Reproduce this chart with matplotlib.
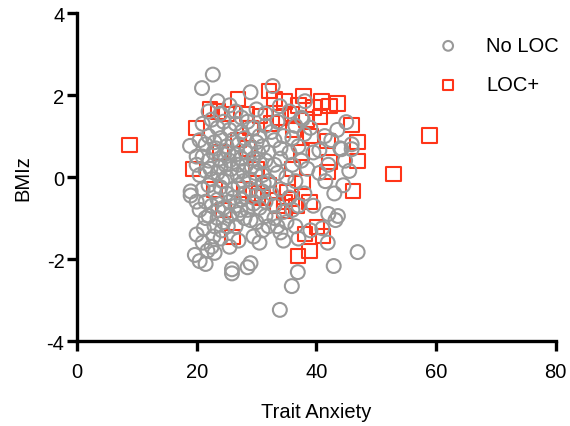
import matplotlib
matplotlib.use('Agg')
import matplotlib.pyplot as plt

#   font and colours
plt.rcParams['font.family'] = ['Liberation Sans Narrow', 'Liberation Sans', 'DejaVu Sans']
plt.rcParams['axes.unicode_minus'] = False
grey = '#999999'
red = '#ff3519'

#   No LOC group (trait anxiety, BMIz)
noloc_x = [22.7, 20.9, 32.7, 29.0, 23.5, 25.5, 22.0, 24.0, 26.5, 30.0, 31.5, 27.5, 35.5, 33.5,
           36.5, 37.5, 38.0, 36.0, 39.5, 40.5, 42.5, 44.0, 45.9, 45.0, 43.5, 44.8, 42.0, 40.5,
           38.5, 41.5, 43.0, 44.5, 45.5, 38.0, 39.5, 42.0, 43.6, 43.2, 41.0, 39.0, 41.9, 46.9,
           37.0, 36.5, 35.0, 34.0, 33.0, 32.0, 34.5, 36.9, 35.9, 33.9, 42.9, 29.0, 28.5, 25.9,
           25.9, 19.7, 20.5, 21.5, 20.0, 21.0, 22.5, 24.0, 25.5, 27.0, 29.5, 30.5, 31.0, 28.0,
           26.5, 23.0, 21.5, 20.5, 19.0, 19.0, 20.0, 18.9, 20.0,
           21.0, 22.5, 23.5, 24.5, 25.5, 26.5, 27.5, 28.5, 29.5, 30.5, 31.5, 32.5, 33.0, 34.5,
           20.5, 21.5, 22.0, 23.0, 24.0, 25.0, 26.0, 27.0, 28.0, 29.0, 30.0, 31.0, 32.0, 34.0,
           35.5, 37.0,
           20.0, 21.0, 22.0, 22.8, 23.8, 24.6, 25.5, 26.5, 27.5, 28.3, 29.5, 30.5, 31.5, 33.0,
           34.0, 36.0, 37.5,
           20.5, 21.5, 22.5, 23.5, 24.0, 25.0, 25.8, 26.8, 27.8, 28.8, 29.8, 31.0, 32.0, 33.5,
           35.0, 36.5,
           21.0, 22.0, 23.0, 24.0, 25.0, 26.0, 27.0, 28.0, 29.0, 30.0, 31.0, 32.5, 34.0, 35.5,
           37.0,
           21.5, 22.5, 23.5, 24.5, 25.5, 26.5, 27.5, 28.5, 29.5, 30.5, 31.5, 33.0, 34.5, 36.0,
           22.0, 23.5, 24.5, 25.5, 27.0, 29.0, 30.0, 31.5, 33.5,
           22.3, 23.2, 24.3, 25.3, 26.2, 26.9, 27.3, 28.2, 29.2, 30.3, 31.2, 23.6, 24.8, 27.8,
           33.9, 38.1, 37.7, 41.4, 45.9, 44.2, 39.0,
           21.2, 22.8, 24.2, 23.0, 21.8, 25.2]
noloc_y = [2.50, 2.17, 2.22, 2.07, 1.85, 1.75, 1.60, 1.55, 1.60, 1.65, 1.55, 1.45, 1.60, 1.35,
           1.25, 1.45, 1.05, 0.95, 0.60, 0.65, 0.90, 0.70, 0.68, 1.34, 1.15, 0.40, 0.30, 0.10,
           0.20, -0.10, -0.40, -0.20, 0.15, -0.40, -0.70, -0.90, -0.95, -1.05, -1.25, -1.30, -1.60, -1.83,
           -1.50, -1.20, -1.10, -1.35, -1.00, -1.20, -1.55, -2.32, -2.66, -3.24, -2.17, -2.10, -2.20, -2.25,
           -2.35, -1.90, -2.05, -2.12, -1.40, -1.60, -1.70, -1.50, -1.70, -1.55, -1.45, -1.60, -1.30, -1.00,
           -1.20, -1.20, -1.00, -0.80, -0.35, -0.45, -0.60, 0.76, 0.50,
           1.30, 1.40, 1.20, 1.35, 1.15, 1.30, 1.10, 1.35, 1.20, 1.00, 1.25, 1.10, 0.90, 1.00,
           0.90, 0.80, 1.00, 0.85, 0.95, 0.75, 0.90, 0.80, 0.95, 0.70, 0.85, 0.75, 0.60, 0.70,
           0.60, 0.75,
           0.30, 0.50, 0.40, 0.60, 0.45, 0.55, 0.40, 0.55, 0.45, 0.30, 0.45, 0.35, 0.40, 0.30,
           0.45, 0.30, 0.40,
           0.05, 0.15, -0.05, 0.10, 0.25, 0.00, 0.20, 0.05, 0.15, -0.05, 0.10, 0.05, -0.10, 0.10,
           0.00, -0.10,
           -0.30, -0.20, -0.35, -0.25, -0.40, -0.30, -0.20, -0.40, -0.30, -0.45, -0.35, -0.40, -0.30, -0.50,
           -0.70,
           -0.60, -0.70, -0.55, -0.75, -0.60, -0.70, -0.55, -0.80, -0.65, -0.75, -0.60, -0.70, -0.85, -0.80,
           -0.95, -1.00, -1.10, -0.95, -0.90, -1.05, -1.10, -0.95, -1.20,
           0.20, 0.70, -0.10, 0.60, -0.50, 0.30, -0.80, 0.60, 0.25, 0.60, -0.15, -0.80, 0.30, -0.10,
           1.73, 1.85, 1.41, 1.00, 0.80, 0.68, 1.20,
           -1.25, -1.45, -1.30, -1.85, -1.80, -1.20]

#   LOC+ group
loc_x = [8.8, 58.9, 52.9, 32.1, 26.9, 37.9, 40.9, 42.2, 34.7, 33.0, 22.2, 20.0, 45.9, 46.9,
         46.9, 46.1, 42.2, 41.9, 41.9, 40.6, 38.4, 35.9, 30.6, 28.4, 25.0, 23.6, 34.7, 35.9,
         30.2, 28.0, 19.4, 37.7, 35.2, 38.9, 34.7, 36.7, 40.1, 38.1, 41.1, 38.9, 36.9, 26.0,
         31.0, 29.5, 24.5, 33.5, 39.0, 37.5, 36.0, 32.5, 34.0, 37.0, 39.5, 29.0, 27.0, 24.0,
         30.0, 32.0, 23.0, 28.5, 43.5, 36.2]
loc_y = [0.78, 1.02, 0.07, 2.10, 1.90, 1.98, 1.85, 1.73, 1.85, 1.90, 1.66, 1.20, 1.27, 0.85,
         0.39, -0.34, 0.37, 0.12, 0.88, 1.46, 1.41, 1.54, 1.49, 1.54, 1.54, 1.60, -0.61, -0.54,
         -0.46, -0.30, 0.20, -0.12, -0.37, -0.61, -0.83, -0.71, -1.22, -1.39, -1.44, -1.80, -1.93, -1.46,
         -0.50, -0.40, -0.80, -0.70, 1.00, 0.60, 0.20, 1.30, 1.45, 1.75, 1.70, 1.20, 0.90, 0.60,
         0.20, -0.20, -0.30, 0.70, 1.80, 1.15]

x_ticks = [0, 20, 40, 60, 80]
y_ticks = [-4, -2, 0, 2, 4]

fig = plt.figure(figsize=(5.7, 4.27), dpi=100)
ax = fig.add_axes([0.135, 0.199, 0.84, 0.768])

#   squares first, circles drawn over them
ax.scatter(loc_x, loc_y, s=110, marker='s', facecolors='none',
           edgecolors=red, linewidths=1.5, label='LOC+', clip_on=False, zorder=2)
ax.scatter(noloc_x, noloc_y, s=100, marker='o', facecolors='none',
           edgecolors=grey, linewidths=1.5, label='No LOC', clip_on=False, zorder=3)

#   axes options
ax.set_xlim(0, 80)
ax.set_ylim(-4, 4)
ax.set_xticks(x_ticks)
ax.set_yticks(y_ticks)
for side in ['top', 'right']:
    ax.spines[side].set_visible(False)
for side in ['left', 'bottom']:
    ax.spines[side].set_linewidth(2.4)
ax.tick_params(width=2.4, length=7, labelsize=14.5)
ax.tick_params(axis='x', pad=8)
ax.tick_params(axis='y', pad=2)
ax.set_xlabel('Trait Anxiety', fontsize=14.5, labelpad=15)
ax.set_ylabel('BMIz', fontsize=14.5, labelpad=10)

handles, labels = ax.get_legend_handles_labels()
ax.legend(handles[::-1], labels[::-1], loc='upper right', bbox_to_anchor=(1.045, 0.985),
          frameon=False, fontsize=14.5, markerscale=0.7, handletextpad=0.9,
          labelspacing=1.0)

plt.savefig('out.png', dpi=100)
